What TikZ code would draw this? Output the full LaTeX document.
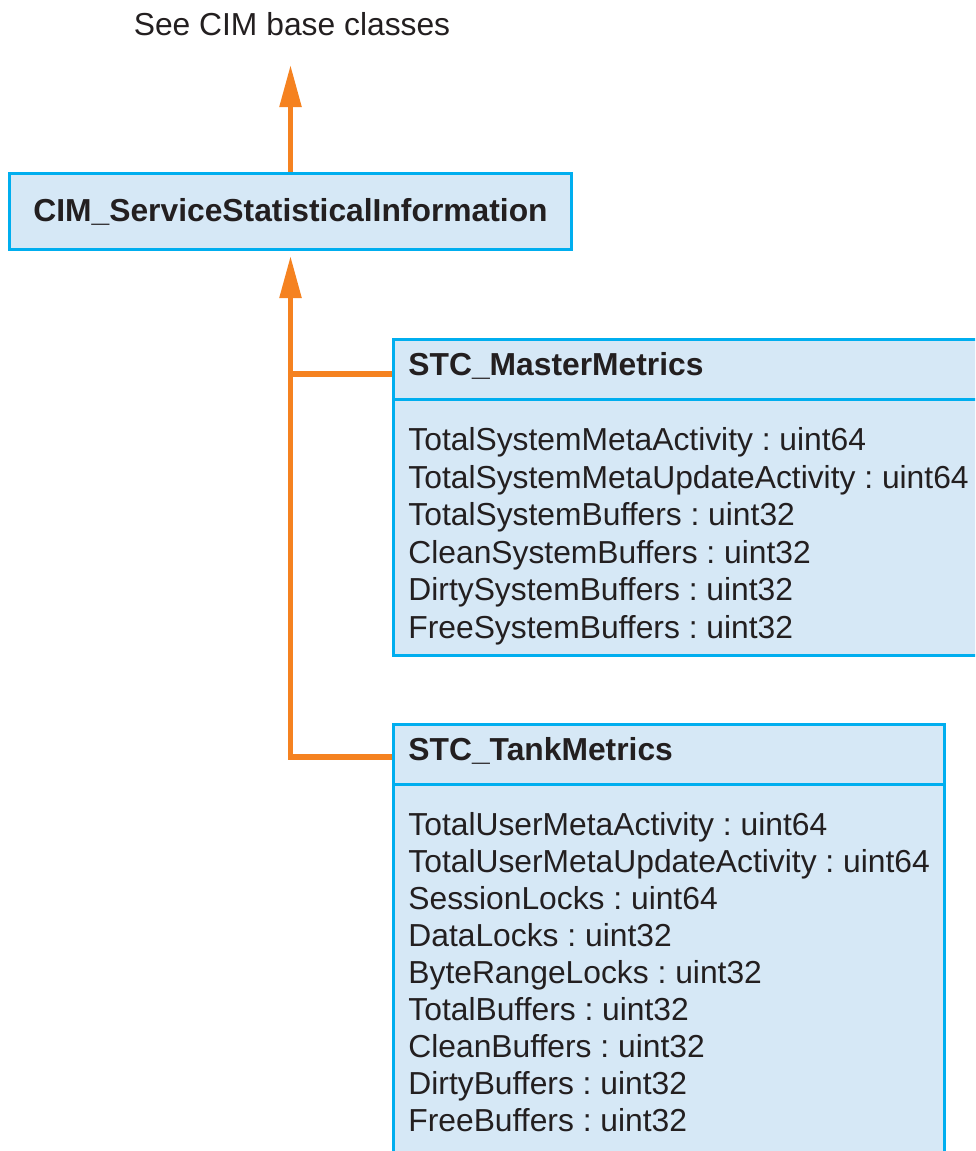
\documentclass[tikz,border=0pt]{standalone}
\usepackage{fontspec}
\setmainfont{Liberation Sans}
\usetikzlibrary{arrows.meta}
\frenchspacing

\definecolor{boxfill}{RGB}{214,232,246}
\definecolor{boxline}{RGB}{0,174,239}
\definecolor{linkorange}{RGB}{245,130,32}
\definecolor{textdark}{RGB}{35,31,32}

\tikzset{
  classbox/.style={rectangle, draw=boxline, fill=boxfill, line width=1.5pt, anchor=north west, inner sep=0pt},
  divider/.style={draw=boxline, line width=1.5pt},
  classname/.style={font=\fontsize{15.9}{18.75}\selectfont\bfseries, text=textdark, inner sep=0pt},
  attrs/.style={font=\fontsize{15.9}{18.75}\selectfont, text=textdark, align=left, inner sep=0pt, anchor=base west},
  note/.style={font=\fontsize{15.9}{18.75}\selectfont, text=textdark, inner sep=0pt},
  inherit/.style={draw=linkorange, line width=2.7pt, line join=miter},
  inheritarrow/.style={inherit, -{Triangle[length=21pt,width=10.5pt]}}
}

\begin{document}
\begin{tikzpicture}[x=0.5pt,y=-0.5pt]
    \useasboundingbox (0,0) rectangle (975,1151);
    \clip (0,0) rectangle (975,1151);

    % 注記
    \node[note] (see) at (292,24) {See CIM base classes};
    \coordinate (seetip) at (289,65);

    % 点の定義
    \coordinate (masterlink) at (392,374);
    \coordinate (tanklink) at (392,757);

    % 基底クラス
    \node[classbox, minimum width=281pt, minimum height=38pt] (cim) at (8,172) {};
    \node[classname] (cimname) at (cim.center) {CIM\_ServiceStatisticalInformation};

    % 線の描画
    \draw[inheritarrow] (cim.north) -- (cim.north |- seetip);
    \draw[inheritarrow, shorten >=2.5pt] (tanklink) -- (tanklink -| cim.south) -- (cim.south);
    \draw[inherit] (masterlink) -- (masterlink -| cim.south);

    % STC_MasterMetrics
    \node[classbox, minimum width=310pt, minimum height=158pt] (master) at (392,338) {};
    \coordinate (masterdiv) at (392,399);
    \draw[divider] (masterdiv) -- (masterdiv -| master.east);
    \node[classname, anchor=west] (mastername) at (408,366) {STC\_MasterMetrics};
    \node[attrs] (masterattrs) at (408,638) {%
        TotalSystemMetaActivity : uint64\\
        TotalSystemMetaUpdateActivity : uint64\\
        TotalSystemBuffers : uint32\\
        CleanSystemBuffers : uint32\\
        DirtySystemBuffers : uint32\\
        FreeSystemBuffers : uint32};

    % STC_TankMetrics
    \node[classbox, minimum width=275.5pt, minimum height=230pt] (tank) at (392,723) {};
    \coordinate (tankdiv) at (392,784);
    \draw[divider] (tankdiv) -- (tankdiv -| tank.east);
    \node[classname, anchor=west] (tankname) at (408,751) {STC\_TankMetrics};
    \node[attrs, font=\fontsize{15.9}{18.45}\selectfont] (tankattrs) at (408,1131) {%
        TotalUserMetaActivity : uint64\\
        TotalUserMetaUpdateActivity : uint64\\
        SessionLocks : uint64\\
        DataLocks : uint32\\
        ByteRangeLocks : uint32\\
        TotalBuffers : uint32\\
        CleanBuffers : uint32\\
        DirtyBuffers : uint32\\
        FreeBuffers : uint32};

\end{tikzpicture}
\end{document}
